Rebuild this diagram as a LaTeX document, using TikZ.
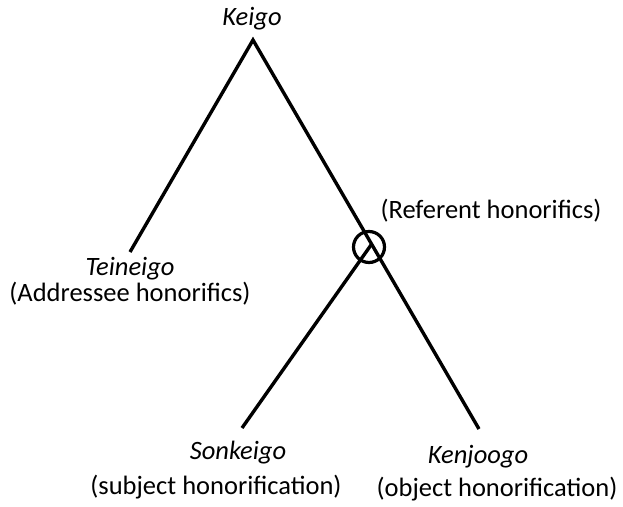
\documentclass[tikz,border=0pt]{standalone}
\usepackage{fontspec}
\setmainfont{Carlito}
\begin{document}
\begin{tikzpicture}[x=1pt,y=-1pt,
  lbl/.style={anchor=base,inner sep=0pt,font=\fontsize{26.5}{32}\selectfont},
  ilbl/.style={lbl,font=\fontsize{26.5}{32}\selectfont\itshape},
  branch/.style={line width=3.4pt,line join=miter}]
\useasboundingbox (0,0) rectangle (623,506);
\coordinate (apex) at (253,40);
\coordinate (tl) at (130,252);
\coordinate (junc) at (371,245);
\coordinate (son) at (242,428);
\coordinate (ken) at (479,429);
\node[ilbl] (keigo) at (252,25) {Keigo};
\node[ilbl] (teineigo) at (130,275) {Teineigo};
\node[lbl] (addr) at (130,301) {(Addressee honorifics)};
\node[lbl] (refer) at (491,218) {(Referent honorifics)};
\node[ilbl] (sonkeigo) at (238,459) {Sonkeigo};
\node[lbl] (subj) at (216,494) {(subject honorification)};
\node[ilbl] (kenjoogo) at (478,463) {Kenjoogo};
\node[lbl] (obj) at (497,496) {(object honorification)};
\draw[branch] (tl) -- (apex) -- (ken);
\draw[branch] (junc) -- (son);
\node[draw,circle,line width=3.2pt,minimum size=31pt,inner sep=0pt] (ring) at (369,247) {};
\end{tikzpicture}
\end{document}
